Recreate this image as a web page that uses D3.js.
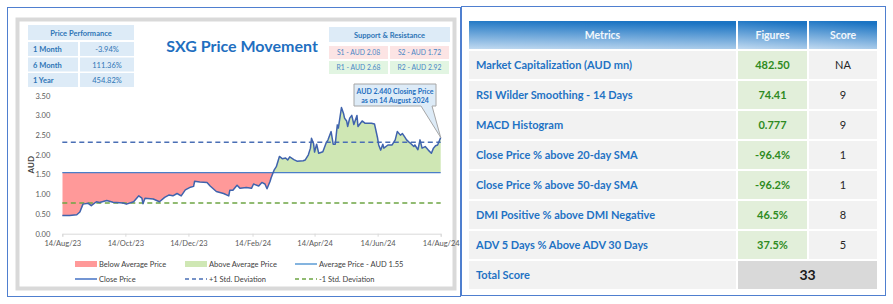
<!DOCTYPE html>
<html>
<head>
<meta charset="utf-8">
<script src="https://cdn.jsdelivr.net/npm/d3@7"></script>
<style>
  body { margin: 0; background: #fff; }
  text { font-family: Lato, "Liberation Sans", sans-serif; }
</style>
</head>
<body>
<svg id="chart" width="893" height="304"></svg>
<script>
// ---- price data (days after 14 Aug 2023, close in AUD) ----
const dayOffsets = [
  0,7,14,17,20,25,28,33,36,43,
  49,59,62,69,74,77,78,80,88,94,
  99,103,107,111,115,119,124,127,128,133,
  140,143,149,156,161,162,165,169,172,178,
  183,185,190,193,196,198,201,202,205,207,
  210,213,216,218,220,224,227,233,235,238,
  240,241,243,244,246,248,252,255,257,260,
  262,264,266,267,270,272,273,275,276,278,
  280,282,285,286,290,293,299,302,305,306,
  308,310,311,315,319,322,324,327,329,331,
  333,335,337,340,341,344,346,348,351,354,
  357,359,361,363,366
];
const closePrices = [
  0.46,0.46,0.48,0.55,0.75,0.77,0.71,0.81,0.79,0.84,
  0.80,0.78,0.75,0.81,0.96,0.90,0.76,0.90,0.88,0.81,
  0.92,0.98,0.96,1.02,0.96,1.11,1.18,1.20,1.33,1.31,
  1.30,1.21,1.07,1.02,0.96,1.10,1.10,1.23,1.15,1.17,
  1.15,1.26,1.21,1.30,1.26,1.14,1.33,1.42,1.62,1.70,
  1.96,1.90,1.92,1.87,1.95,1.88,1.84,1.85,1.87,2.00,
  2.17,2.42,2.29,2.07,2.27,2.04,2.08,2.29,2.38,2.59,
  2.27,2.27,2.76,2.68,3.20,3.05,2.93,2.86,2.72,2.93,
  3.00,2.77,3.00,2.72,2.86,2.80,2.80,2.78,2.42,2.25,
  2.12,2.27,2.17,2.25,2.25,2.38,2.59,2.50,2.54,2.46,
  2.38,2.33,2.29,2.21,2.25,2.13,2.38,2.17,2.21,2.12,
  2.04,2.17,2.23,2.25,2.44
];
const averagePrice = 1.55;
const plusOneStd = 2.32;
const minusOneStd = 0.78;
const yTicks = [0, 0.5, 1, 1.5, 2, 2.5, 3, 3.5];
const xTickDates = ["2023-08-14","2023-10-14","2023-12-14","2024-02-14","2024-04-14","2024-06-14","2024-08-14"];

// ---- side boxes ----
const perfPeriods = ["1 Month", "6 Month", "1 Year"];
const perfReturns = ["-3.94%", "111.36%", "454.82%"];
const supportLabels = ["S1 - AUD 2.08", "S2 - AUD 1.72"];
const resistanceLabels = ["R1 - AUD 2.68", "R2 - AUD 2.92"];

// ---- metrics table ----
const tableHeaders = ["Metrics", "Figures", "Score"];
const metricNames = [
  "Market Capitalization (AUD mn)",
  "RSI Wilder Smoothing - 14 Days",
  "MACD Histogram",
  "Close Price % above 20-day SMA",
  "Close Price % above 50-day SMA",
  "DMI Positive % above DMI Negative",
  "ADV 5 Days % Above ADV 30 Days"
];
const metricFigures = ["482.50", "74.41", "0.777", "-96.4%", "-96.2%", "46.5%", "37.5%"];
const metricScores = ["NA", "9", "9", "1", "1", "8", "5"];
const totalScore = "33";

const svg = d3.select("#chart");
const defs = svg.append("defs");

// panels
svg.append("rect").attr("x", 7.5).attr("y", 7.5).attr("width", 453).attr("height", 289)
  .attr("fill", "#fff").attr("stroke", "#4f7fcf").attr("stroke-width", 1);
svg.append("rect").attr("x", 17.5).attr("y", 19.5).attr("width", 437).attr("height", 269)
  .attr("fill", "#fff").attr("stroke", "#d9d9d9").attr("stroke-width", 4);
svg.append("rect").attr("x", 461.5).attr("y", 6.5).attr("width", 424).attr("height", 289)
  .attr("fill", "#fff").attr("stroke", "#4f7fcf").attr("stroke-width", 1);

// ================= price chart =================
const parse = d3.timeParse("%Y-%m-%d");
const startDate = parse(xTickDates[0]);
const endDate = parse(xTickDates[xTickDates.length - 1]);
const prices = dayOffsets.map((d, i) => ({ date: d3.timeDay.offset(startDate, d), close: closePrices[i] }));

const x = d3.scaleTime().domain([startDate, endDate]).range([62.3, 440.7]);
const y = d3.scaleLinear().domain([0, 3.5]).range([233.7, 95.7]);

// clip regions above / below the average
defs.append("clipPath").attr("id", "clipAbove").append("rect")
  .attr("x", x.range()[0]).attr("y", 0).attr("width", 400).attr("height", y(averagePrice));
defs.append("clipPath").attr("id", "clipBelow").append("rect")
  .attr("x", x.range()[0]).attr("y", y(averagePrice)).attr("width", 400).attr("height", 200);

const area = d3.area().x(d => x(d.date)).y0(y(averagePrice)).y1(d => y(d.close));
svg.append("path").datum(prices).attr("d", area).attr("fill", "#ff9999").attr("clip-path", "url(#clipBelow)");
svg.append("path").datum(prices).attr("d", area).attr("fill", "#cfe7b4").attr("clip-path", "url(#clipAbove)");

// x axis
const xAxis = svg.append("g").attr("transform", `translate(0,${y(0)})`)
  .call(d3.axisBottom(x).tickValues(xTickDates.map(parse)).tickFormat(d3.timeFormat("%d/%b/%y")).tickSizeOuter(0).tickSize(3));
xAxis.select(".domain").attr("stroke", "#d9d9d9");
xAxis.selectAll(".tick line").attr("stroke", "#d9d9d9");
xAxis.selectAll(".tick text").attr("fill", "#595959").attr("font-size", 7.5).attr("dy", "0.9em")
  .attr("font-family", "Lato, sans-serif");

// y axis
const yAxis = svg.append("g").attr("transform", `translate(${x.range()[0] - 9},0)`)
  .call(d3.axisLeft(y).tickValues(yTicks).tickFormat(d3.format(".2f")).tickSize(0));
yAxis.select(".domain").remove();
yAxis.selectAll(".tick text").attr("fill", "#595959").attr("font-size", 7.5).attr("font-family", "Lato, sans-serif");

svg.append("text").attr("transform", `translate(34,${y(1.75)}) rotate(-90)`)
  .attr("text-anchor", "middle").attr("font-size", 8).attr("font-weight", "bold").attr("fill", "#404040").text("AUD");

// reference lines
function hLine(v, color, dash, width) {
  svg.append("line").attr("x1", x.range()[0]).attr("x2", x.range()[1])
    .attr("y1", y(v)).attr("y2", y(v)).attr("stroke", color).attr("stroke-width", width)
    .attr("stroke-dasharray", dash);
}
hLine(averagePrice, "#4a7ec8", null, 1.3);
hLine(plusOneStd, "#4a6fb5", "5,3.5", 1.5);
hLine(minusOneStd, "#6ea544", "5,3.5", 1.5);

// close line
svg.append("path").datum(prices)
  .attr("d", d3.line().x(d => x(d.date)).y(d => y(d.close)))
  .attr("fill", "none").attr("stroke", "#3f63ad").attr("stroke-width", 1.5).attr("stroke-linejoin", "round");

// title
svg.append("text").attr("x", 242).attr("y", 52).attr("text-anchor", "middle")
  .attr("font-size", 16).attr("font-weight", "bold").attr("fill", "#1f6fc0").text("SXG Price Movement");

// price performance box
const perfBox = svg.append("g");
perfBox.append("rect").attr("x", 28).attr("y", 25).attr("width", 106).attr("height", 15).attr("fill", "#ddebf7");
perfBox.append("text").attr("x", 81).attr("y", 35.5).attr("text-anchor", "middle")
  .attr("font-size", 7.5).attr("font-weight", "bold").attr("fill", "#2e75b6").text("Price Performance");
perfPeriods.forEach((p, i) => {
  const ry = 42 + i * 15.5;
  perfBox.append("rect").attr("x", 28).attr("y", ry).attr("width", 50).attr("height", 14).attr("fill", "#ddebf7");
  perfBox.append("rect").attr("x", 80).attr("y", ry).attr("width", 54).attr("height", 14).attr("fill", "#ddebf7");
  perfBox.append("text").attr("x", 33).attr("y", ry + 10).attr("font-size", 7.5).attr("font-weight", "bold")
    .attr("fill", "#2e75b6").text(p);
  perfBox.append("text").attr("x", 107).attr("y", ry + 10).attr("text-anchor", "middle").attr("font-size", 7.5)
    .attr("fill", "#2e75b6").text(perfReturns[i]);
});

// support & resistance box
const srBox = svg.append("g");
srBox.append("rect").attr("x", 329).attr("y", 27).attr("width", 121).attr("height", 15).attr("fill", "#ddebf7");
srBox.append("text").attr("x", 389.5).attr("y", 37.5).attr("text-anchor", "middle")
  .attr("font-size", 7.5).attr("font-weight", "bold").attr("fill", "#2e75b6").text("Support & Resistance");
[supportLabels, resistanceLabels].forEach((labels, r) => {
  labels.forEach((lab, c) => {
    const rx = 329 + c * 61, ry = 46 + r * 15;
    srBox.append("rect").attr("x", rx).attr("y", ry).attr("width", 59).attr("height", 13)
      .attr("fill", r === 0 ? "#fce4e4" : "#e2f5e2");
    srBox.append("text").attr("x", rx + 29.5).attr("y", ry + 9.3).attr("text-anchor", "middle")
      .attr("font-size", 6.8).attr("fill", "#4a86c5").text(lab);
  });
});

// callout for last close
const last = prices[prices.length - 1];
const callout = svg.append("g");
callout.append("path")
  .attr("d", `M354,84 H436 V106 H432 L${x(last.date)},${y(last.close)} L421,106 H354 Z`)
  .attr("fill", "#ddebf7").attr("stroke", "#a6a6a6").attr("stroke-width", 1);
callout.append("text").attr("x", 395).attr("y", 93.5).attr("text-anchor", "middle").attr("font-size", 7)
  .attr("font-weight", "bold").attr("fill", "#1f6fc0").text(`AUD ${d3.format(".3f")(last.close)} Closing Price`);
callout.append("text").attr("x", 395).attr("y", 103).attr("text-anchor", "middle").attr("font-size", 7)
  .attr("font-weight", "bold").attr("fill", "#1f6fc0").text("as on 14 August 2024");

// legend
const legendItems = [
  { label: "Below Average Price", type: "rect", color: "#ff9999" },
  { label: "Above Average Price", type: "rect", color: "#cfe7b4" },
  { label: "Average Price - AUD " + averagePrice.toFixed(2), type: "line", color: "#5b9bd5" },
  { label: "Close Price", type: "line", color: "#4472c4" },
  { label: "+1 Std. Deviation", type: "dash", color: "#4a6fb5" },
  { label: "-1 Std. Deviation", type: "dash", color: "#6ea544" }
];
const legend = svg.append("g");
legendItems.forEach((it, i) => {
  const lx = 75 + (i % 3) * 110, ly = 264 + Math.floor(i / 3) * 15;
  if (it.type === "rect") {
    legend.append("rect").attr("x", lx).attr("y", ly - 3).attr("width", 22).attr("height", 6).attr("fill", it.color);
  } else {
    legend.append("line").attr("x1", lx).attr("x2", lx + 22).attr("y1", ly).attr("y2", ly)
      .attr("stroke", it.color).attr("stroke-width", 1.5)
      .attr("stroke-dasharray", it.type === "dash" ? "4,3" : null);
  }
  legend.append("text").attr("x", lx + 24).attr("y", ly + 2.7).attr("font-size", 7.5)
    .attr("fill", "#404040").text(it.label);
});

// ================= metrics table =================
const colX = [468, 737, 808, 878];
const rows = d3.scaleBand().domain(d3.range(9)).range([20, 290]);

const hdrGrad = defs.append("linearGradient").attr("id", "hdrGrad")
  .attr("x1", 0).attr("y1", 1).attr("x2", 0.15).attr("y2", 0);
hdrGrad.append("stop").attr("offset", "0%").attr("stop-color", "#c6ddf2");
hdrGrad.append("stop").attr("offset", "100%").attr("stop-color", "#1b74c3");

const table = svg.append("g");
tableHeaders.forEach((h, c) => {
  table.append("rect").attr("x", colX[c]).attr("y", rows(0)).attr("width", colX[c + 1] - colX[c])
    .attr("height", rows.bandwidth()).attr("fill", "url(#hdrGrad)").attr("stroke", "#fff").attr("stroke-width", 2);
  table.append("text").attr("x", (colX[c] + colX[c + 1]) / 2).attr("y", rows(0) + rows.bandwidth() / 2 + 4)
    .attr("text-anchor", "middle").attr("font-size", 10.5).attr("font-weight", "bold")
    .attr("fill", "#f2f7fc").text(h);
});

metricNames.forEach((name, i) => {
  const ry = rows(i + 1), rh = rows.bandwidth();
  const fills = ["#f2f2f2", "#e2efda", "#f2f2f2"];
  fills.forEach((f, c) => {
    table.append("rect").attr("x", colX[c]).attr("y", ry).attr("width", colX[c + 1] - colX[c]).attr("height", rh)
      .attr("fill", f).attr("stroke", "#fff").attr("stroke-width", 2);
  });
  table.append("text").attr("x", 476).attr("y", ry + rh / 2 + 4).attr("font-size", 11).attr("font-weight", "bold")
    .attr("fill", "#1f72c4").text(name);
  table.append("text").attr("x", (colX[1] + colX[2]) / 2).attr("y", ry + rh / 2 + 4).attr("text-anchor", "middle")
    .attr("font-size", 11).attr("font-weight", "bold").attr("fill", "#2e8b22").text(metricFigures[i]);
  table.append("text").attr("x", (colX[2] + colX[3]) / 2).attr("y", ry + rh / 2 + 4).attr("text-anchor", "middle")
    .attr("font-size", 11).attr("fill", "#262626").text(metricScores[i]);
});

// total row
const ty = rows(8), th = rows.bandwidth();
table.append("rect").attr("x", colX[0]).attr("y", ty).attr("width", colX[1] - colX[0]).attr("height", th)
  .attr("fill", "#f2f2f2").attr("stroke", "#fff").attr("stroke-width", 2);
table.append("rect").attr("x", colX[1]).attr("y", ty).attr("width", colX[3] - colX[1]).attr("height", th)
  .attr("fill", "#d9d9d9").attr("stroke", "#fff").attr("stroke-width", 2);
table.append("text").attr("x", 476).attr("y", ty + th / 2 + 4).attr("font-size", 11).attr("font-weight", "bold")
  .attr("fill", "#1f72c4").text("Total Score");
table.append("text").attr("x", (colX[1] + colX[3]) / 2).attr("y", ty + th / 2 + 5).attr("text-anchor", "middle")
  .attr("font-size", 14).attr("font-weight", "bold").attr("fill", "#1a1a1a").text(totalScore);
</script>
</body>
</html>
